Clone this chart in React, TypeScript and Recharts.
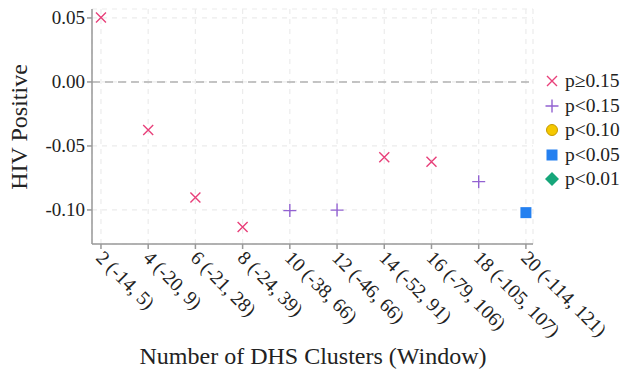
import { ScatterChart, Scatter, XAxis, YAxis, CartesianGrid, ReferenceLine, Label } from 'recharts'

// window size (number of DHS clusters) and the distance range shown in the tick
const windows = [2, 4, 6, 8, 10, 12, 14, 16, 18, 20]
const rangeLow = [-14, -20, -21, -24, -38, -46, -52, -79, -105, -114]
const rangeHigh = [5, 9, 28, 39, 66, 66, 91, 106, 107, 121]
const estimates = [0.0503, -0.0375, -0.0903, -0.1133, -0.1005, -0.1001, -0.0589, -0.0623, -0.0779, -0.1021]
const pBins = ['ge15', 'ge15', 'ge15', 'ge15', 'lt15', 'lt15', 'ge15', 'ge15', 'lt15', 'lt05']

const yTicks = [-0.1, -0.05, 0, 0.05]

const categories = [
  { key: 'ge15', label: 'p≥0.15', color: '#e8407a' },
  { key: 'lt15', label: 'p<0.15', color: '#9262d1' },
  { key: 'lt10', label: 'p<0.10', color: '#f5c800' },
  { key: 'lt05', label: 'p<0.05', color: '#2480f0' },
  { key: 'lt01', label: 'p<0.01', color: '#16a67a' }
]

const FONT = '"Liberation Serif", "Times New Roman", serif'

const points = windows.map((w, i) => ({
  window: w,
  est: estimates[i],
  bin: pBins[i],
  tick: `${w} (${rangeLow[i]}, ${rangeHigh[i]})`
}))

function Marker ({ kind, cx, cy }: { kind: string, cx: number, cy: number }) {
  const c = categories.find(k => k.key === kind)!.color
  if (kind === 'ge15') {
    const d = 5
    return <path d={`M${cx - d},${cy - d}L${cx + d},${cy + d}M${cx + d},${cy - d}L${cx - d},${cy + d}`} stroke={c} strokeWidth={1.4} fill='none' />
  }
  if (kind === 'lt15') {
    const d = 6.5
    return <path d={`M${cx - d},${cy}L${cx + d},${cy}M${cx},${cy - d}L${cx},${cy + d}`} stroke={c} strokeWidth={1.4} fill='none' />
  }
  if (kind === 'lt10') return <circle cx={cx} cy={cy} r={5.5} fill={c} stroke='#c49a00' strokeWidth={1} />
  if (kind === 'lt05') return <rect x={cx - 5.5} y={cy - 5.5} width={11} height={11} fill={c} />
  const d = 7
  return <path d={`M${cx},${cy - d}L${cx + d},${cy}L${cx},${cy + d}L${cx - d},${cy}Z`} fill={c} />
}

function XTick ({ x, y, payload }: any) {
  const p = points.find(pt => pt.window === payload.value)
  return (
    <text
      x={x - 6}
      y={y + 8}
      transform={`rotate(45, ${x - 6}, ${y + 8})`}
      textAnchor='start'
      fontFamily={FONT}
      fontSize={19.5}
      fill='#222'
    >
      {p ? p.tick : payload.value}
    </text>
  )
}

function YTick ({ x, y, payload }: any) {
  return (
    <text x={x} y={y} dy={6} textAnchor='end' fontFamily={FONT} fontSize={19} fill='#222'>
      {payload.value.toFixed(2)}
    </text>
  )
}

export default function App () {
  return (
    <div style={{ position: 'absolute', left: 0, top: 0, width: 627, height: 373, background: '#fff' }}>
      <ScatterChart width={627} height={373} margin={{ top: 9, right: 94, bottom: 0, left: 0 }}>
        <CartesianGrid stroke='#ececec' strokeDasharray='5 5' strokeWidth={1.2} />
        <XAxis
          type='number'
          dataKey='window'
          domain={[1.62, 20.3]}
          ticks={windows}
          interval={0}
          height={129}
          tick={<XTick />}
          tickSize={5}
          stroke='#999'
          strokeWidth={1.5}
        >
          <Label
            content={() => (
              <text x={313} y={364} textAnchor='middle' fontFamily={FONT} fontSize={24} fill='#222'>
                Number of DHS Clusters (Window)
              </text>
            )}
          />
        </XAxis>
        <YAxis
          type='number'
          dataKey='est'
          domain={[-0.1266, 0.057]}
          ticks={yTicks}
          width={92}
          tick={<YTick />}
          tickSize={5}
          stroke='#999'
          strokeWidth={1.5}
        >
          <Label
            content={() => (
              <text x={27} y={127} transform='rotate(-90, 27, 127)' textAnchor='middle' fontFamily={FONT} fontSize={24} fill='#222'>
                HIV Positive
              </text>
            )}
          />
        </YAxis>
        <ReferenceLine y={0} stroke='#b3b3b3' strokeDasharray='8 5' strokeWidth={1.5} />
        {categories.map(cat => (
          <Scatter
            key={cat.key}
            name={cat.label}
            data={points.filter(p => p.bin === cat.key)}
            isAnimationActive={false}
            shape={(props: any) => <Marker kind={cat.key} cx={props.cx} cy={props.cy} />}
          />
        ))}
      </ScatterChart>
      <div style={{ position: 'absolute', left: 543, top: 69, fontFamily: FONT, fontSize: 19.5, color: '#222' }}>
        {categories.map(cat => (
          <div key={cat.key} style={{ display: 'flex', alignItems: 'center', height: 24.5 }}>
            <svg width={18} height={18} style={{ marginRight: 4 }}>
              <Marker kind={cat.key} cx={9} cy={9} />
            </svg>
            <span>{cat.label}</span>
          </div>
        ))}
      </div>
    </div>
  )
}
